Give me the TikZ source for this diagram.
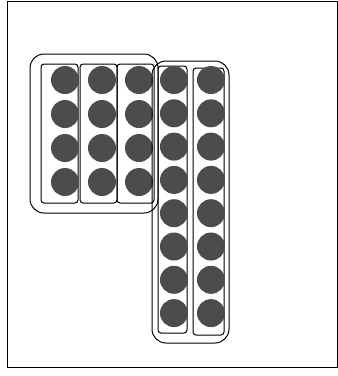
\documentclass[tikz,border=0pt]{standalone}
\begin{document}
\begin{tikzpicture}[x=1pt,y=-1pt,line join=round,line cap=round,line width=1pt]
	\tikzset{dot/.style={fill=black!70},
		column/.style={draw,rounded corners=3pt},
		group/.style={draw,rounded corners=14pt}}
	\useasboundingbox (0,0) rectangle (338,376);
	\draw (8,1) rectangle (337,367);
	% left group of three short columns
	\draw[group] (30,54) rectangle (158,213);
	\foreach \x in {41,80,117}
	\draw[column] (\x,64) rectangle ++(37,139);
	\foreach \x in {65,102,139}
	\foreach \y in {80,114,148,182}
	\fill[dot] (\x,\y) circle (14pt);
	% right group of two long columns
	\draw[group] (152,61) rectangle (229,343);
	\draw[column] (158,66) rectangle (187,333);
	\draw[column] (193,68) rectangle (224,335);
	\foreach \x in {174,211}
	\foreach \i in {0,...,7}
	\fill[dot] (\x,80+33.3*\i) circle (14pt);
\end{tikzpicture}
\end{document}
